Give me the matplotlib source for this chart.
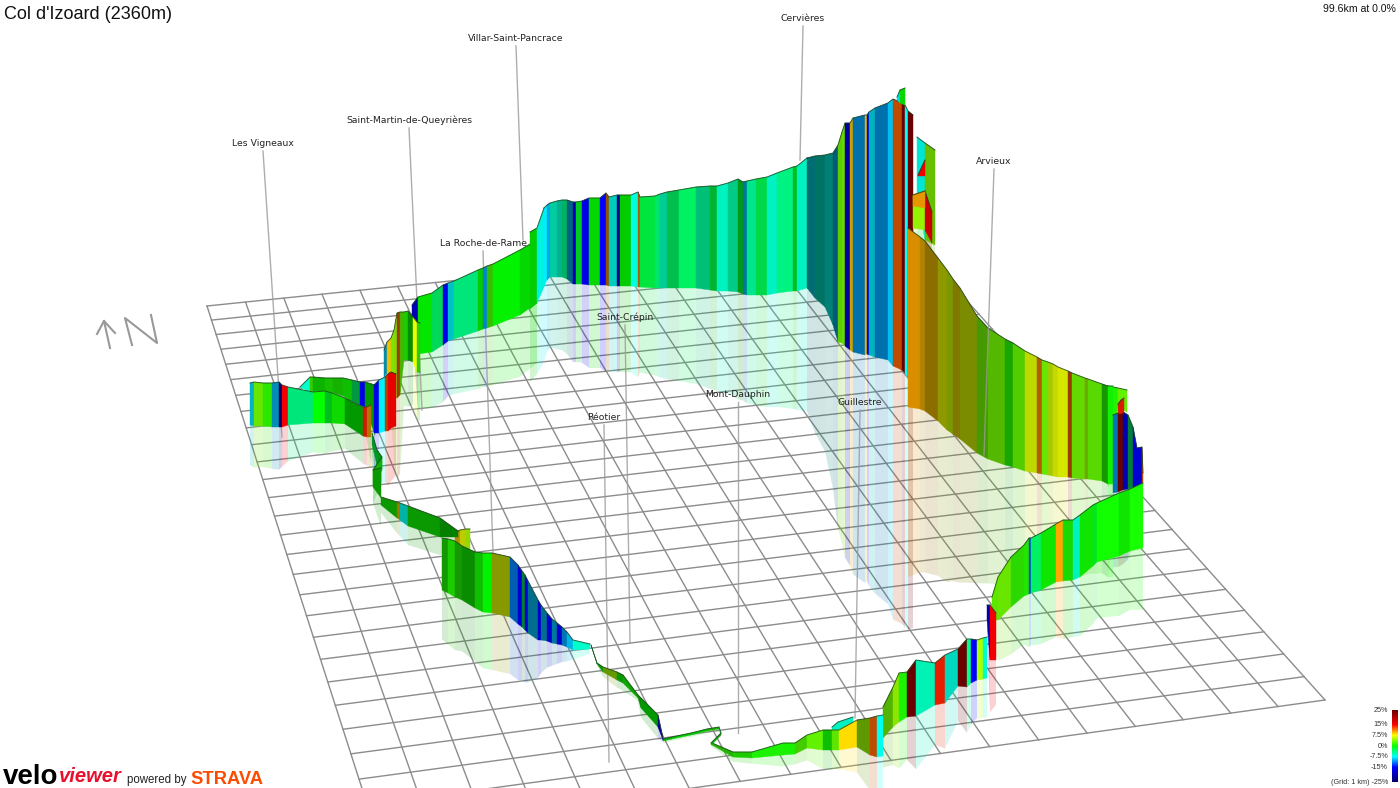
import numpy as np
import matplotlib
matplotlib.use("Agg")
import matplotlib.pyplot as plt
from matplotlib.colors import LinearSegmentedColormap

# all positions are pixels of the 1400x788 picture

title = "Col d'Izoard (2360m)"
summary = "99.6km at 0.0%"

# gradient scale
scale_grades = [-25, -15, -7.5, 0, 7.5, 15, 25]
scale_colors = ["#00006a", "#0000ff", "#00ffff", "#00ff00", "#ffff00", "#ff0000", "#6a0000"]
scale_labels = ["25%", "15%", "7.5%", "0%", "-7.5%", "-15%", "(Grid: 1 km) -25%"]
scale_label_grades = [25, 15, 7.5, 0, -7.5, -15, -25]

# towns: name, label x, label y, leader foot x, leader foot y
town_names = ["Les Vigneaux", "Saint-Martin-de-Queyrières", "Villar-Saint-Pancrace", "La Roche-de-Rame",
              "Saint-Crépin", "Cervières", "Arvieux", "Mont-Dauphin", "Guillestre", "Réotier"]
town_x = [263, 409, 516, 483, 625, 803, 994, 738, 860, 604]
town_y = [143, 120, 38, 243, 317, 18, 161, 394, 402, 417]
foot_x = [282, 422, 523, 493, 630, 800, 984, 738, 855, 609]
foot_y = [437, 410, 240, 553, 643, 160, 455, 733, 718, 762]

# grid corners and cell counts
grid_corners = [(207, 306), (907, 234), (1325, 700), (376, 832)]
grid_cols = 19
grid_rows = 27

# route walls, far ones first: band edges, top and base at each edge, gradient and light of each band
col_x = [544, 547, 550, 557, 562, 567, 573, 576, 582, 589, 600, 606, 609, 617, 620, 631, 638, 640, 655, 660, 667, 679,
         696, 710, 717, 728, 738, 743, 747, 756, 767, 777, 793, 797, 807]
col_top = [208, 205, 203, 201, 200, 200, 202, 202, 201, 198, 198, 193, 197, 195, 195, 195, 192, 197, 196, 194, 192, 190,
           187, 186, 186, 183, 179, 182, 181, 179, 177, 173, 167, 166, 158]
col_base = [287, 280, 277, 277, 277, 279, 284, 284, 284, 285, 285, 285, 286, 286, 286, 286, 287, 287, 288, 288, 288, 288,
            288, 290, 291, 291, 292, 294, 295, 295, 295, 293, 291, 291, 288]
col_grade = [-8, -9.5, -6, -6, -4, -9, -20, -1, -15, 0, -15, 11, -7, -20, 0, -6.5, 11, -2, -3.5, -5.5, -3, -3,
             -4.5, -2, -6, -5, -1, -9, -4.5, -2.5, -6, -4, -1, -6]
col_light = [1, .9, .8, .7, .7, .5, 1, .8, .9, .85, 1, .6, .8, .8, .8, 1, .7, .9, .9, .8, .75, .95,
             .75, .7, .95, .8, .6, .6, .9, .85, .95, .95, .75, .95]

steep_x = [807, 815, 825, 833, 838, 842, 845, 850, 853, 865, 867, 869, 875, 888, 893, 902, 905, 908, 913]
steep_top = [158, 156, 155, 153, 145, 132, 123, 123, 118, 115, 115, 112, 108, 103, 99, 103, 105, 111, 115]
steep_base = [288, 298, 307, 325, 342, 343, 346, 350, 352, 355, 354, 355, 357, 360, 366, 370, 373, 377, 378]
steep_grade = [-8, -6.5, -7, -9, 3.5, 3.5, -20, 9, -10, 9, -15, -8, -10, -9, 12, 25, -7.5, 25]
steep_light = [.45, .45, .5, .45, .8, .85, .9, .8, .68, .9, .9, .75, .68, .95, .75, 1, 1, 1]

# small switchback pieces at the top of the col
tip_x = [897, 900, 905]
tip_top = [97, 90, 88]
tip_base = [100, 103, 105]
tip_grade = [-8, 0]
tip_light = [.9, .85]

bend1_x = [917, 925, 935]
bend1_top = [137, 143, 150]
bend1_base = [194, 240, 245]
bend1_grade = [-7, 4]
bend1_light = [.9, .75]

bend2_x = [913, 925, 932]
bend2_top = [195, 191, 212]
bend2_base = [228, 230, 243]
bend2_grade = [4.5, 15]
bend2_light = [.95, .8]

bend3_x = [913, 925]
bend3_top = [195, 191]
bend3_base = [206, 208]
bend3_grade = [10]
bend3_light = [.9]

bend4_x = [918, 925]
bend4_top = [175, 160]
bend4_base = [176, 176]
bend4_grade = [15]
bend4_light = [.95]

arvieux_x = [908, 920, 925, 938, 947, 953, 960, 977, 988, 1005, 1013, 1025, 1037, 1042, 1048, 1053, 1058, 1068, 1072,
             1085, 1088, 1102, 1108, 1113]
arvieux_top = [228, 237, 241, 258, 270, 279, 288, 316, 328, 339, 343, 351, 357, 360, 362, 364, 367, 371, 373,
               378, 379, 384, 386, 386]
arvieux_base = [407, 409, 411, 421, 430, 434, 439, 453, 459, 465, 467, 471, 473, 474, 475, 476, 477, 477, 478,
                479, 479, 481, 484, 484]
arvieux_grade = [10, 9.5, 9, 7, 6, 8, 6.5, 3.5, 3.5, 1, 3, 6.5, 11, 3.5, 6, 7, 7, 12, 3.5, 5, 3, 1, .5]
arvieux_light = [.85, .7, .55, .6, .6, .5, .55, .6, .72, .65, .8, .85, .7, .9, .8, .85, .9, .6, .85, .65, .85, .6, .95]

cap_x = [1108, 1118, 1127]
cap_top = [386, 388, 390]
cap_base = [486, 405, 412]
cap_grade = [1, 3]
cap_light = [.95, .95]

wedge_x = [1118, 1121, 1124]
wedge_top = [404, 400, 398]
wedge_base = [413, 414, 412]
wedge_grade = [14, 14]
wedge_light = [.85, .85]

east_x = [1113, 1118, 1123, 1128, 1133, 1137, 1142, 1143]
east_top = [415, 413, 412, 415, 427, 448, 447, 473]
east_base = [493, 492, 490, 489, 488, 487, 485, 483]
east_grade = [-10, 25, -20, -3, -18, -18, 12]
east_light = [.7, 1, 1, .5, 1, 1, .7]

south_x = [992, 998, 1011, 1024, 1029, 1031, 1041, 1056, 1063, 1073, 1080, 1093, 1097, 1119, 1130, 1143]
south_top = [597, 577, 557, 545, 538, 538, 533, 524, 520, 520, 515, 505, 503, 493, 489, 483]
south_base = [620, 620, 607, 596, 594, 593, 590, 582, 581, 580, 577, 566, 562, 556, 551, 548]
south_grade = [3, 3.5, 1.5, 1, -12, -3, .5, 10, .8, -6, .5, -1, .5, .5, .6]
south_light = [.9, .9, .85, .9, .8, .95, .9, 1, .85, .95, .9, .9, 1, .9, 1]

jump_x = [987, 990, 996]
jump_top = [605, 605, 613]
jump_base = [620, 660, 660]
jump_grade = [-15, 15]
jump_light = [.7, .95]

low_x = [883, 893, 899, 907, 916, 935, 945, 958, 967, 971, 977, 983, 987]
low_top = [707, 687, 673, 672, 660, 663, 655, 649, 639, 639, 640, 638, 637]
low_base = [738, 727, 722, 717, 716, 705, 703, 686, 687, 683, 680, 679, 678]
low_grade = [3.5, 4.5, .8, 25, -5.5, 14, -6.5, 25, -4, -15, 5, -6]
low_light = [.7, .9, .95, 1, .95, .9, .85, 1, 1, 1, 1, 1]

patch_x = [832, 838, 853]
patch_top = [727, 722, 717]
patch_base = [730, 732, 723]
patch_grade = [-6, -6]
patch_light = [.95, .95]

valley_x = [712, 733, 752, 783, 795, 807, 823, 832, 839, 857, 870, 877, 883]
valley_top = [743, 752, 752, 743, 743, 735, 730, 730, 730, 720, 718, 716, 715]
valley_base = [745, 757, 758, 755, 754, 748, 750, 750, 750, 747, 755, 757, 756]
valley_grade = [1.5, 1, .8, .7, 2.5, 3, .5, 3, 8.5, 4.5, 12, -7]
valley_light = [.7, .8, .95, .95, .8, .95, .75, .9, 1, .6, .75, 1]

thin_x = [663, 672, 691, 707, 719, 721, 718, 711]
thin_top = [739, 737, 733, 729, 727, 733, 736, 743]
thin_base = [741, 739, 735, 731, 729, 735, 738, 745]
thin_grade = [0, 0, 0, 1, -3, 1, 0]
thin_light = [.7, .8, .8, .7, .9, .6, .7]

drop_x = [591, 597, 603, 617, 623, 638, 641, 658, 663]
drop_top = [645, 663, 667, 672, 675, 695, 698, 715, 738]
drop_base = [645, 664, 672, 680, 683, 698, 708, 727, 740]
drop_grade = [-2, 0, 5, .5, .5, .5, 0, -20]
drop_light = [.6, .6, .6, .6, .65, .55, .6, .8]

centre_x = [442, 448, 455, 462, 475, 483, 492, 510, 518, 522, 525, 528, 538, 541, 547, 552, 557, 562, 567, 573, 590]
centre_top = [538, 539, 541, 546, 552, 553, 553, 557, 565, 571, 575, 581, 600, 605, 613, 619, 623, 627, 632, 640, 644]
centre_base = [590, 593, 597, 600, 608, 612, 613, 617, 624, 627, 630, 633, 640, 640, 641, 643, 644, 645, 647, 650, 649]
centre_grade = [.8, 1, 1, .5, .5, 0, 6.5, -11, -18, -3, -18, -9, -18, -9, -18, -9, -18, -10, -9, -6]
centre_light = [.6, .8, .6, .55, .75, .95, .6, .7, 1, .5, 1, .55, 1, .55, 1, .6, 1, .7, .9, 1]

knob_x = [455, 460, 466, 470]
knob_top = [533, 530, 529, 529]
knob_base = [540, 545, 549, 551]
knob_grade = [9, 7, 5]
knob_light = [.7, .8, .85]

ridge_x = [381, 397, 400, 408, 440, 458]
ridge_top = [497, 502, 503, 506, 518, 531]
ridge_base = [505, 518, 520, 526, 537, 537]
ridge_grade = [.5, 9, -7, .5, 0]
ridge_light = [.6, .6, .7, .6, .5]

wiggle_x = [372, 377, 382, 373, 381]
wiggle_top = [433, 450, 457, 470, 468]
wiggle_base = [445, 465, 470, 487, 498]
wiggle_grade = [-2, -1, .5, .5]
wiggle_light = [.6, .6, .7, .6]

climb_x = [412, 418, 432, 443, 448, 454, 478, 483, 487, 493, 520, 537]
climb_top = [305, 297, 293, 285, 283, 281, 270, 268, 266, 264, 250, 240]
climb_base = [320, 354, 352, 345, 341, 339, 331, 329, 328, 326, 315, 303]
climb_grade = [-20, 0, -3, -15, -8, -4, 0, -10, 2, 0, 0]
climb_light = [1, .9, .85, .9, .8, .9, .8, .8, .75, .95, .85]

link_x = [530, 537, 544]
link_top = [232, 228, 208]
link_base = [309, 303, 287]
link_grade = [0, -7]
link_light = [.8, .95]

ladder_x = [384, 387, 391, 394, 397, 400, 404, 408, 413, 417, 420]
ladder_top = [350, 342, 338, 330, 313, 312, 312, 311, 317, 322, 323]
ladder_base = [377, 373, 377, 398, 398, 395, 360, 360, 362, 372, 373]
ladder_grade = [-9, 9, 4, 4.5, 12, 3, 1, .5, 7, 1.5]
ladder_light = [.7, .95, .9, .85, .6, .7, .8, .55, 1, .8]

back_x = [300, 310, 313, 325, 333, 343, 352, 360, 365, 375]
back_top = [387, 377, 377, 378, 378, 378, 380, 382, 382, 385]
back_base = [387, 392, 392, 391, 393, 396, 401, 405, 407, 435]
back_grade = [-6, 2, .5, .8, .8, .5, -3, -15, 0]
back_light = [1, .8, .7, .75, .7, .75, .6, .9, .6]

start_x = [250, 254, 263, 272, 279, 282, 288, 313, 325, 332, 345, 363, 367, 371]
start_top = [383, 382, 383, 383, 382, 385, 387, 392, 391, 393, 398, 407, 407, 405]
start_base = [425, 426, 426, 427, 427, 427, 425, 423, 423, 423, 424, 436, 437, 437]
start_grade = [-8, 3.5, 1.5, -9, -25, 15, -4, 0, -1, .5, 0, 14, 10]
start_light = [.75, .9, .9, .7, 1, .95, .9, 1, .75, .85, .6, .8, .7]

turn_x = [374, 379, 385, 388, 391, 396]
turn_top = [385, 380, 377, 374, 372, 374]
turn_base = [433, 433, 431, 431, 428, 426]
turn_grade = [-15, -8, 12, 15, 15]
turn_light = [.9, 1, .7, .9, .9]

walls = [
    (col_x, col_top, col_base, col_grade, col_light),
    (steep_x, steep_top, steep_base, steep_grade, steep_light),
    (tip_x, tip_top, tip_base, tip_grade, tip_light),
    (bend1_x, bend1_top, bend1_base, bend1_grade, bend1_light),
    (bend2_x, bend2_top, bend2_base, bend2_grade, bend2_light),
    (bend3_x, bend3_top, bend3_base, bend3_grade, bend3_light),
    (bend4_x, bend4_top, bend4_base, bend4_grade, bend4_light),
    (cap_x, cap_top, cap_base, cap_grade, cap_light),
    (arvieux_x, arvieux_top, arvieux_base, arvieux_grade, arvieux_light),
    (east_x, east_top, east_base, east_grade, east_light),
    (wedge_x, wedge_top, wedge_base, wedge_grade, wedge_light),
    (south_x, south_top, south_base, south_grade, south_light),
    (low_x, low_top, low_base, low_grade, low_light),
    (jump_x, jump_top, jump_base, jump_grade, jump_light),
    (patch_x, patch_top, patch_base, patch_grade, patch_light),
    (valley_x, valley_top, valley_base, valley_grade, valley_light),
    (thin_x, thin_top, thin_base, thin_grade, thin_light),
    (drop_x, drop_top, drop_base, drop_grade, drop_light),
    (knob_x, knob_top, knob_base, knob_grade, knob_light),
    (centre_x, centre_top, centre_base, centre_grade, centre_light),
    (ridge_x, ridge_top, ridge_base, ridge_grade, ridge_light),
    (wiggle_x, wiggle_top, wiggle_base, wiggle_grade, wiggle_light),
    (climb_x, climb_top, climb_base, climb_grade, climb_light),
    (link_x, link_top, link_base, link_grade, link_light),
    (ladder_x, ladder_top, ladder_base, ladder_grade, ladder_light),
    (back_x, back_top, back_base, back_grade, back_light),
    (start_x, start_top, start_base, start_grade, start_light),
    (turn_x, turn_top, turn_base, turn_grade, turn_light),
]

stops = [(g + 25) / 50 for g in scale_grades]
grade_cmap = LinearSegmentedColormap.from_list("grade", list(zip(stops, scale_colors)))


def grade_color(grade, light=1.0):
    r, g, b, _ = grade_cmap((grade + 25) / 50)
    return (r * light, g * light, b * light)


def grid_point(u, v):
    # perspective map of the unit square onto the four grid corners
    src = [(0, 0), (1, 0), (1, 1), (0, 1)]
    a = []
    b = []
    for (s, t), (px, py) in zip(src, grid_corners):
        a.append([s, t, 1, 0, 0, 0, -s * px, -t * px])
        a.append([0, 0, 0, s, t, 1, -s * py, -t * py])
        b.extend([px, py])
    h = np.linalg.solve(np.array(a, float), np.array(b, float))
    w = h[6] * u + h[7] * v + 1
    return (h[0] * u + h[1] * v + h[2]) / w, (h[3] * u + h[4] * v + h[5]) / w


fig = plt.figure(figsize=(14, 7.88), dpi=100)
ax = fig.add_axes([0, 0, 1, 1])
ax.set_xlim(0, 1400)
ax.set_ylim(788, 0)
ax.axis("off")

# ground grid
for i in range(grid_cols + 1):
    xs, ys = grid_point(np.array([i / grid_cols] * 2), np.array([0.0, 1.0]))
    ax.plot(xs, ys, color="#8c8c8c", lw=1.0, zorder=1)
for j in range(grid_rows + 1):
    xs, ys = grid_point(np.array([0.0, 1.0]), np.array([j / grid_rows] * 2))
    ax.plot(xs, ys, color="#8c8c8c", lw=1.0, zorder=1)

# reflections on the ground: about the height of the wall, hanging under its base
for x, top, base, grade, light in walls:
    for k in range(len(grade)):
        h0 = (base[k] - top[k]) * 0.95
        h1 = (base[k + 1] - top[k + 1]) * 0.95
        ax.fill([x[k], x[k + 1], x[k + 1], x[k]],
                [base[k], base[k + 1], base[k + 1] + h1, base[k] + h0],
                color=grade_color(grade[k], light[k]), alpha=0.18, lw=0, zorder=2)

# town leaders and labels
for name, lx, ly, fx, fy in zip(town_names, town_x, town_y, foot_x, foot_y):
    z = 6 if name == "Arvieux" else 3
    ax.plot([lx, fx], [ly + 8, fy], color="#999999", lw=1.0, alpha=0.8, zorder=z)
    ax.text(lx, ly, name, ha="center", va="center", fontsize=6.7, color="#222222",
            family="DejaVu Sans", zorder=7)

# walls
for n, (x, top, base, grade, light) in enumerate(walls):
    z = 4 + n * 0.01
    for k in range(len(grade)):
        c = grade_color(grade[k], light[k])
        ax.fill([x[k], x[k + 1], x[k + 1], x[k]],
                [top[k], top[k + 1], base[k + 1], base[k]],
                facecolor=c, edgecolor=c, lw=0.3, zorder=z)
    ax.plot(x, top, color="#204020", lw=0.7, alpha=0.8, zorder=z)

# north arrow
arrow_x = [[110, 104], [97, 104, 115]]
arrow_y = [[348, 321], [334, 321, 333]]
for xs, ys in zip(arrow_x, arrow_y):
    ax.plot(xs, ys, color="#999999", lw=1.5, zorder=5)
ax.plot([132, 125, 157, 151], [345, 318, 343, 315], color="#999999", lw=1.5, zorder=5)

# colour scale
bar = np.linspace(25, -25, 144).reshape(-1, 1)
ax.imshow(bar, cmap=grade_cmap, vmin=-25, vmax=25, extent=[1392, 1398, 782, 710], aspect="auto", zorder=5)
ax.set_xlim(0, 1400)
ax.set_ylim(788, 0)
for lab, g in zip(scale_labels, scale_label_grades):
    ax.text(1388, 746 - g * 1.44, lab, ha="right", va="center", fontsize=5.2, color="#333333",
            family="Liberation Sans", zorder=7)

# header texts
ax.text(4, 14, title, ha="left", va="center", fontsize=13, color="#111111", family="Liberation Sans")
ax.text(1396, 9, summary, ha="right", va="center", fontsize=7.6, color="#111111", family="Liberation Sans")

# logos as text
ax.text(3, 777, "velo", ha="left", va="center", fontsize=20, fontweight="bold", color="black",
        family="Liberation Sans")
ax.text(59, 777, "viewer", ha="left", va="center", fontsize=14.5, fontweight="bold", style="italic",
        color="#e8112d", family="Liberation Sans")
ax.text(127, 780, "powered by", ha="left", va="center", fontsize=8.3, color="#222222", family="Liberation Sans")
ax.text(190, 779, "STRAVA", ha="left", va="center", fontsize=13.2, fontweight="bold", color="#fc4c02",
        family="Liberation Sans")

fig.savefig("out.png", dpi=100)
